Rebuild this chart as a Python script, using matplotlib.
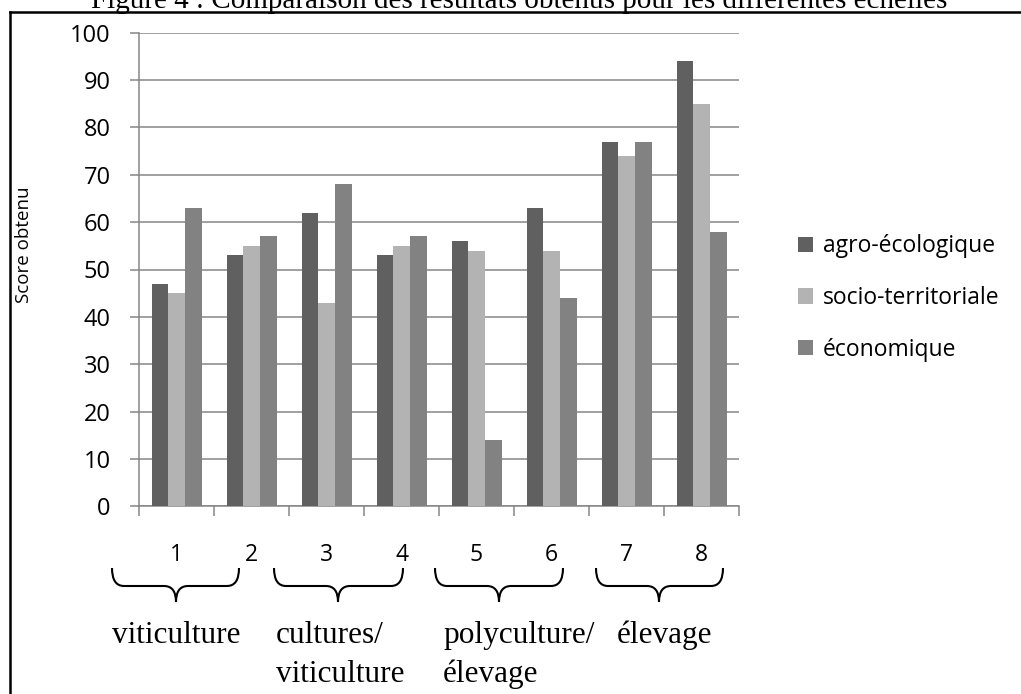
#!/usr/bin/env python3

import matplotlib
matplotlib.use('Agg')
import matplotlib.pyplot as plt
from matplotlib.path import Path
from matplotlib.patches import PathPatch, Patch
from matplotlib.lines import Line2D
import numpy as np

# data
exploitations = ['1', '2', '3', '4', '5', '6', '7', '8']
series = ['agro-écologique', 'socio-territoriale', 'économique']
agro = [47, 53, 62, 53, 56, 63, 77, 94]
socio = [45, 55, 43, 55, 54, 54, 74, 85]
eco = [63, 57, 68, 57, 14, 44, 77, 58]
groups = [['viticulture'], ['cultures/', 'viticulture'],
          ['polyculture/', 'élevage'], ['élevage']]
title = 'Figure 4 : Comparaison des résultats obtenus pour les différentes échelles'

colors = ['#606060', '#b3b3b3', '#828282']
grid_col = '#868686'
sans = ['Open Sans', 'DejaVu Sans']
serif = ['Liberation Serif', 'DejaVu Serif']

W, H = 1021, 694


def fx(px):
    return px / W


def fy(py):
    return (H - py) / H


def brace(fig, x0, x1, xc, yt, ym, yb, r=12):
    # curly brace opening upwards, pixel coords (y down)
    pts = [(x0, yt), (x0, ym), (x0 + r, ym), (xc - r, ym), (xc, ym), (xc, yb),
           (xc, ym), (xc + r, ym), (x1 - r, ym), (x1, ym), (x1, yt)]
    codes = [Path.MOVETO, Path.CURVE3, Path.CURVE3, Path.LINETO, Path.CURVE3, Path.CURVE3,
             Path.CURVE3, Path.CURVE3, Path.LINETO, Path.CURVE3, Path.CURVE3]
    verts = [(fx(x), fy(y)) for x, y in pts]
    fig.add_artist(PathPatch(Path(verts, codes), transform=fig.transFigure,
                             facecolor='none', edgecolor='black', lw=1.5))


fig = plt.figure(figsize=(W / 100, H / 100), dpi=100)
ax = fig.add_axes([fx(139), fy(506.4), fx(600), 473.8 / H])

x = np.arange(len(exploitations)) + 0.5
w = 1 / 4.5
for k, vals in enumerate([agro, socio, eco]):
    ax.bar(x + (k - 1) * w, vals, width=w, color=colors[k], zorder=3)

ax.set_xlim(0, len(exploitations))
ax.set_ylim(0, 100)
ax.set_yticks(range(0, 101, 10))
ax.yaxis.grid(True, color=grid_col, lw=1.1)
ax.set_axisbelow(True)
for s in ['top', 'right']:
    ax.spines[s].set_visible(False)
for s in ['left', 'bottom']:
    ax.spines[s].set_color(grid_col)
    ax.spines[s].set_linewidth(1.1)

ax.set_xticks(np.arange(len(exploitations) + 1))
ax.set_xticklabels([])
ax.set_xticks(x, exploitations, minor=True)
ax.tick_params(axis='x', which='major', length=7, color=grid_col, width=1.1)
ax.tick_params(axis='x', which='minor', length=0, pad=26, labelsize=16.5)
ax.tick_params(axis='y', length=6.5, color=grid_col, width=1.1, pad=14, labelsize=17)
for lab in ax.get_xticklabels(minor=True) + ax.get_yticklabels():
    lab.set_family(sans)

fig.text(fx(24), fy(245), 'Score obtenu', rotation=90, ha='center', va='center',
         fontsize=13.5, family=sans)

handles = [Patch(facecolor=c, edgecolor='none') for c in colors]
fig.legend(handles, series, loc='center left', bbox_to_anchor=(fx(787), fy(298)),
           frameon=False, borderpad=0, handlelength=0.65, handleheight=0.65,
           handletextpad=0.4, labelspacing=1.2, prop={'family': sans, 'size': 16.5})

# braces and group labels under the axis
spans = [(112, 239, 176), (274, 403, 338), (435, 563, 499), (596, 723, 659)]
for x0, x1, xc in spans:
    brace(fig, x0, x1, xc, 568, 586, 602)

lefts = [112, 276, 443, 617]
for left, lines in zip(lefts, groups):
    for j, line in enumerate(lines):
        fig.text(fx(left), fy(643 + 39 * j), line, ha='left', va='baseline',
                 fontsize=22.5, family=serif)

# caption cut at the top and frame lines
fig.text(fx(519), fy(8), title, ha='center', va='baseline', fontsize=21, family=serif)
fig.add_artist(Line2D([fx(9.5), 1], [fy(11.5), fy(11.5)], transform=fig.transFigure,
                      color='black', lw=1.8))
fig.add_artist(Line2D([fx(9.5), fx(9.5)], [fy(11.5), 0], transform=fig.transFigure,
                      color='black', lw=1.8))

fig.savefig('out.png', dpi=100)
